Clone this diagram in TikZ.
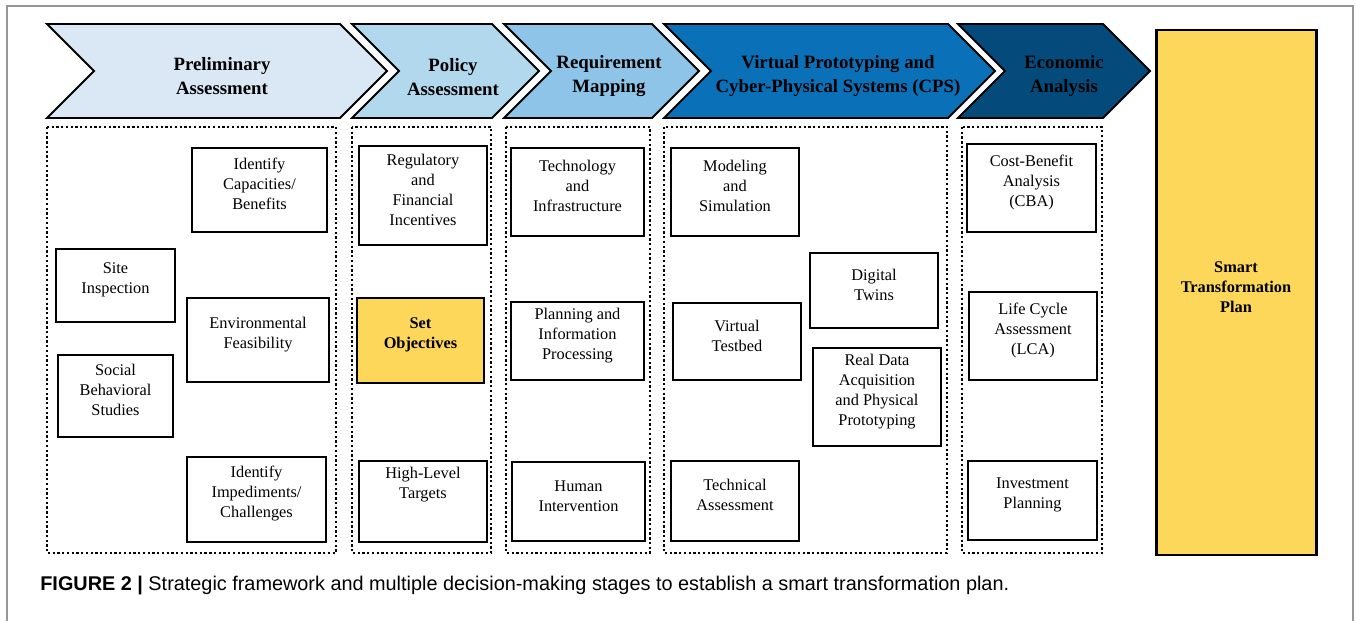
\documentclass[tikz,border=0pt]{standalone}
\usepackage{fontspec}
\setmainfont{Liberation Serif}
\setsansfont{Liberation Sans}
\usetikzlibrary{fit}

\definecolor{stageA}{RGB}{218,232,245}
\definecolor{stageB}{RGB}{178,216,237}
\definecolor{stageC}{RGB}{141,196,232}
\definecolor{stageD}{RGB}{10,113,185}
\definecolor{stageE}{RGB}{4,75,123}
\definecolor{planyellow}{RGB}{253,215,90}
\definecolor{framegray}{RGB}{150,150,150}

\tikzset{
  chevron/.style={draw=black, line width=1.1pt, line join=miter},
  stage/.style={font=\fontsize{10.7}{13.5}\selectfont\bfseries, align=center},
  colbox/.style={line width=1.6pt, dash pattern=on 1.3pt off 1.4pt},
  item/.style={draw, line width=1pt, inner sep=0pt, align=center, font=\fontsize{9.3}{11.4}\selectfont},
}

\begin{document}
\begin{tikzpicture}[x=0.02cm, y=-0.02cm]
\useasboundingbox (0,0) rectangle (1356,621);
\draw[framegray, line width=0.7pt] (7,621) -- (7,6) -- (1353,6) -- (1353,621);

% stage chevrons
\draw[chevron, fill=stageA] (47,24) -- (340,24) -- (387,71) -- (340,118) -- (47,118) -- (94,71) -- cycle;
\draw[chevron, fill=stageB] (352,24) -- (492,24) -- (539,71) -- (492,118) -- (352,118) -- (399,71) -- cycle;
\draw[chevron, fill=stageC] (504,24) -- (652,24) -- (699,71) -- (652,118) -- (504,118) -- (551,71) -- cycle;
\draw[chevron, fill=stageD] (664,24) -- (948,24) -- (995,71) -- (948,118) -- (664,118) -- (711,71) -- cycle;
\draw[chevron, fill=stageE] (958,24) -- (1103,24) -- (1150,71) -- (1103,118) -- (958,118) -- (1005,71) -- cycle;

\node[stage] (prelim) at (222,76) {Preliminary\\Assessment};
\node[stage] (policy) at (453,77) {Policy\\Assessment};
\node[stage] (reqmap) at (609,76) {Requirement\\Mapping};
\node[stage] (vproto) at (838,76) {Virtual Prototyping and\\Cyber-Physical Systems (CPS)};
\node[stage] (econ) at (1064,76) {Economic\\Analysis};

% dotted columns
\draw[colbox] (47,127) rectangle (336,553);
\draw[colbox] (352,127) rectangle (491,553);
\draw[colbox] (506,127) rectangle (650,553);
\draw[colbox] (664,127) rectangle (947,553);
\draw[colbox] (962,127) rectangle (1102,553);

% preliminary assessment
\node[item, fit={(192,148) (327,232)}] (capac) {Identify\\Capacities/\\Benefits};
\node[item, fit={(56,249) (175,322)}] (site) {Site\\Inspection};
\node[item, fit={(187,298) (329,382)}] (envir) {Environmental\\Feasibility};
\node[item, fit={(58,355) (173,437)}] (social) {Social\\Behavioral\\Studies};
\node[item, fit={(187,457) (326,542)}] (imped) {Identify\\Impediments/\\Challenges};

% policy assessment
\node[item, fit={(359,146) (487,245)}] (regul) {Regulatory\\and\\Financial\\Incentives};
\node[item, fill=planyellow, font=\fontsize{9.3}{11.4}\selectfont\bfseries, fit={(357,298) (484,383)}] (objec) {Set\\Objectives};
\node[item, fit={(359,461) (487,542)}] (target) {High-Level\\Targets\\\strut};

% requirement mapping
\node[item, fit={(511,148) (644,236)}] (techn) {Technology\\and\\Infrastructure};
\node[item, fit={(511,302) (644,380)}] (plann) {Planning and\\Information\\Processing};
\node[item, fit={(512,462) (645,541)}] (human) {Human\\Intervention};

% virtual prototyping and CPS
\node[item, fit={(671,148) (799,236)}] (model) {Modeling\\and\\Simulation};
\node[item, fit={(810,253) (938,328)}] (twins) {Digital\\Twins};
\node[item, fit={(673,303) (801,380)}] (testb) {Virtual\\Testbed};
\node[item, fit={(813,348) (941,446)}] (realdata) {Real Data\\Acquisition\\and Physical\\Prototyping};
\node[item, fit={(671,461) (799,541)}] (techas) {Technical\\Assessment};

% economic analysis
\node[item, fit={(967,144) (1096,232)}] (cba) {Cost-Benefit\\Analysis\\(CBA)};
\node[item, fit={(969,292) (1097,380)}] (lca) {Life Cycle\\Assessment\\(LCA)};
\node[item, fit={(968,461) (1097,540)}] (invest) {Investment\\Planning};

% final plan
\node[item, line width=1.7pt, fill=planyellow, font=\fontsize{9.3}{11.4}\selectfont\bfseries, fit={(1156,30) (1316,555)}] (plan) {Smart\\Transformation\\Plan};

\node[anchor=base west, inner sep=0pt, font=\sffamily\fontsize{11.3}{13}\selectfont] (caption) at (40,590) {\textbf{FIGURE 2 |} Strategic framework and multiple decision-making stages to establish a smart transformation plan.};
\end{tikzpicture}
\end{document}
